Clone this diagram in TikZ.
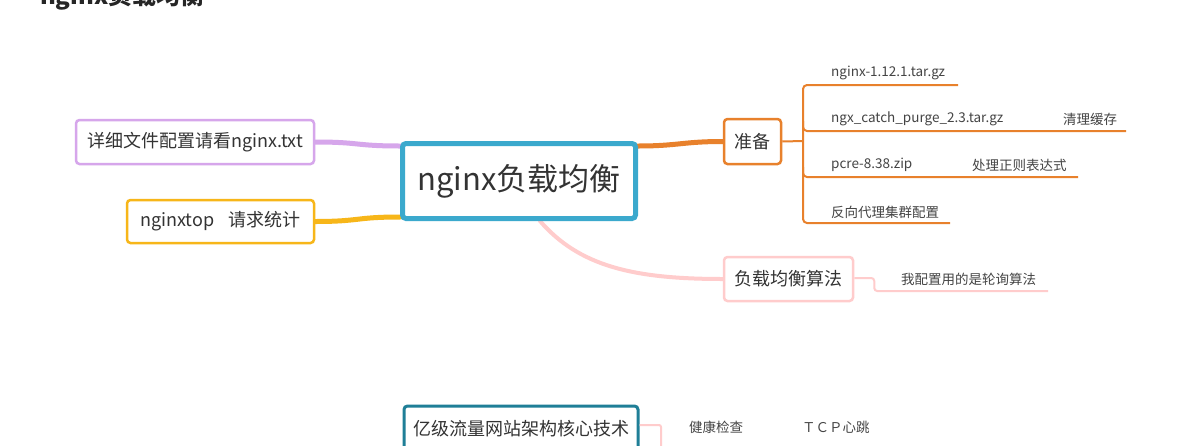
\documentclass[tikz,border=0pt]{standalone}
\usepackage{fontspec}
\setmainfont{Noto Sans CJK SC}
\usetikzlibrary{calc,backgrounds}
\definecolor{txt}{HTML}{333333}
\definecolor{stxt}{HTML}{444444}
\definecolor{cteal}{HTML}{3BA9CD}
\definecolor{clav}{HTML}{D6A6EB}
\definecolor{cyel}{HTML}{F7B619}
\definecolor{corg}{HTML}{E8812C}
\definecolor{cpink}{HTML}{FFCCCC}
\definecolor{cdteal}{HTML}{1F7F97}
\tikzset{
  box/.style={draw, fill=white, rounded corners=3.5pt, align=center, text=txt, inner sep=0pt,
    font=\fontsize{18}{20}\selectfont},
  small/.style={anchor=west, inner sep=0pt, text=stxt, font=\fontsize{13.5}{15}\selectfont},
  thickc/.style={line width=5pt, line cap=round},
  br/.style={draw=corg, line width=2pt},
  pk/.style={draw=cpink, line width=2pt},
}
\begin{document}
\begin{tikzpicture}[x=1pt,y=-1pt]
\useasboundingbox (0,0) rectangle (1194,445);
\clip (0,0) rectangle (1194,445);
\begin{scope}[on background layer]
\fill[white] (0,0) rectangle (1194,445);
\end{scope}

% title (cut off at top)
\node[anchor=base west, inner sep=0pt, text=black!85, font=\bfseries\fontsize{24}{26}\selectfont] (title) at (40,4) {nginx负载均衡};

% central node
\node[box, draw=cteal, line width=5pt, minimum width=233pt, minimum height=75pt,
  font=\fontsize{31}{34}\selectfont] (c) at (519,181) {nginx负载均衡};

% left nodes
\node[box, draw=clav, line width=2.5pt, minimum width=238pt, minimum height=44pt] (l1) at (195,142) {详细文件配置请看nginx.txt};
\node[box, draw=cyel, line width=2.5pt, minimum width=187pt, minimum height=43pt] (l2) at (220.5,221.5) {nginxtop\hspace{14pt}请求统计};

% right nodes
\node[box, draw=corg, line width=2.5pt, minimum width=57pt, minimum height=45pt] (prep) at (752.5,141.5) {准备};
\node[box, draw=cpink, line width=2.5pt, minimum width=129pt, minimum height=44pt] (alg) at (788.5,279) {负载均衡算法};

% bottom node (cut off)
\node[box, draw=cdteal, line width=3pt, minimum width=234pt, minimum height=46pt] (bot) at (521,429) {亿级流量网站架构核心技术};

% thick connectors
\begin{scope}[on background layer]
\draw[thickc, draw=clav] (l1.east) .. controls ($(l1.east)+(45,0)$) and ($(c.west)+(-45,-35)$) .. ($(c.west)+(0,-35)$);
\draw[thickc, draw=cyel] (l2.east) .. controls ($(l2.east)+(45,0)$) and ($(c.west)+(-45,36)$) .. ($(c.west)+(0,36)$);
\draw[thickc, draw=corg] ($(c.east)+(0,-35)$) .. controls ($(c.east)+(40,-35)$) and ($(prep.west)+(-40,0)$) .. (prep.west);
\draw[line width=4pt, draw=cpink, line cap=round] ($(c.south)+(21,0)$) .. controls ($(c.south)+(60,45)$) and ($(alg.west)+(-90,0)$) .. (alg.west);
\end{scope}

% preparation branches
\node[small] (p1) at (831,73) {nginx-1.12.1.tar.gz};
\node[small] (p2) at (831,119) {ngx\_catch\_purge\_2.3.tar.gz};
\node[small] (p2b) at (1063,119) {清理缓存};
\node[small] (p3) at (831,165) {pcre-8.38.zip};
\node[small] (p3b) at (972,165) {处理正则表达式};
\node[small] (p4) at (831,212) {反向代理集群配置};
\coordinate (bk) at (803,141);
\coordinate (e1) at (958,85);
\coordinate (e2) at (1126,131);
\coordinate (e3) at (1078,177);
\coordinate (e4) at (950,223);
\draw[br] (prep.east) -- (bk);
\draw[br, rounded corners=4pt] (e1) -- (bk |- e1) -- (bk |- e4) -- (e4);
\draw[br, rounded corners=4pt] ($(bk |- e2)+(0,-10)$) -- (bk |- e2) -- (e2);
\draw[br, rounded corners=4pt] ($(bk |- e3)+(0,-10)$) -- (bk |- e3) -- (e3);

% algorithm branch
\node[small] (a1) at (901,279) {我配置用的是轮询算法};
\coordinate (ae) at (1048,291);
\draw[pk, rounded corners=3pt] ($(alg.east)+(0,-1)$) -- ++(20,0) |- (ae);

% bottom branch
\node[small] (b1) at (689,427) {健康检查};
\node[small] (b2) at (802,427) {ＴＣＰ心跳};
\coordinate (bt) at (661,455);
\draw[pk, rounded corners=2pt] ($(bot.east)+(0,-4)$) -| (bt);
\end{tikzpicture}
\end{document}
